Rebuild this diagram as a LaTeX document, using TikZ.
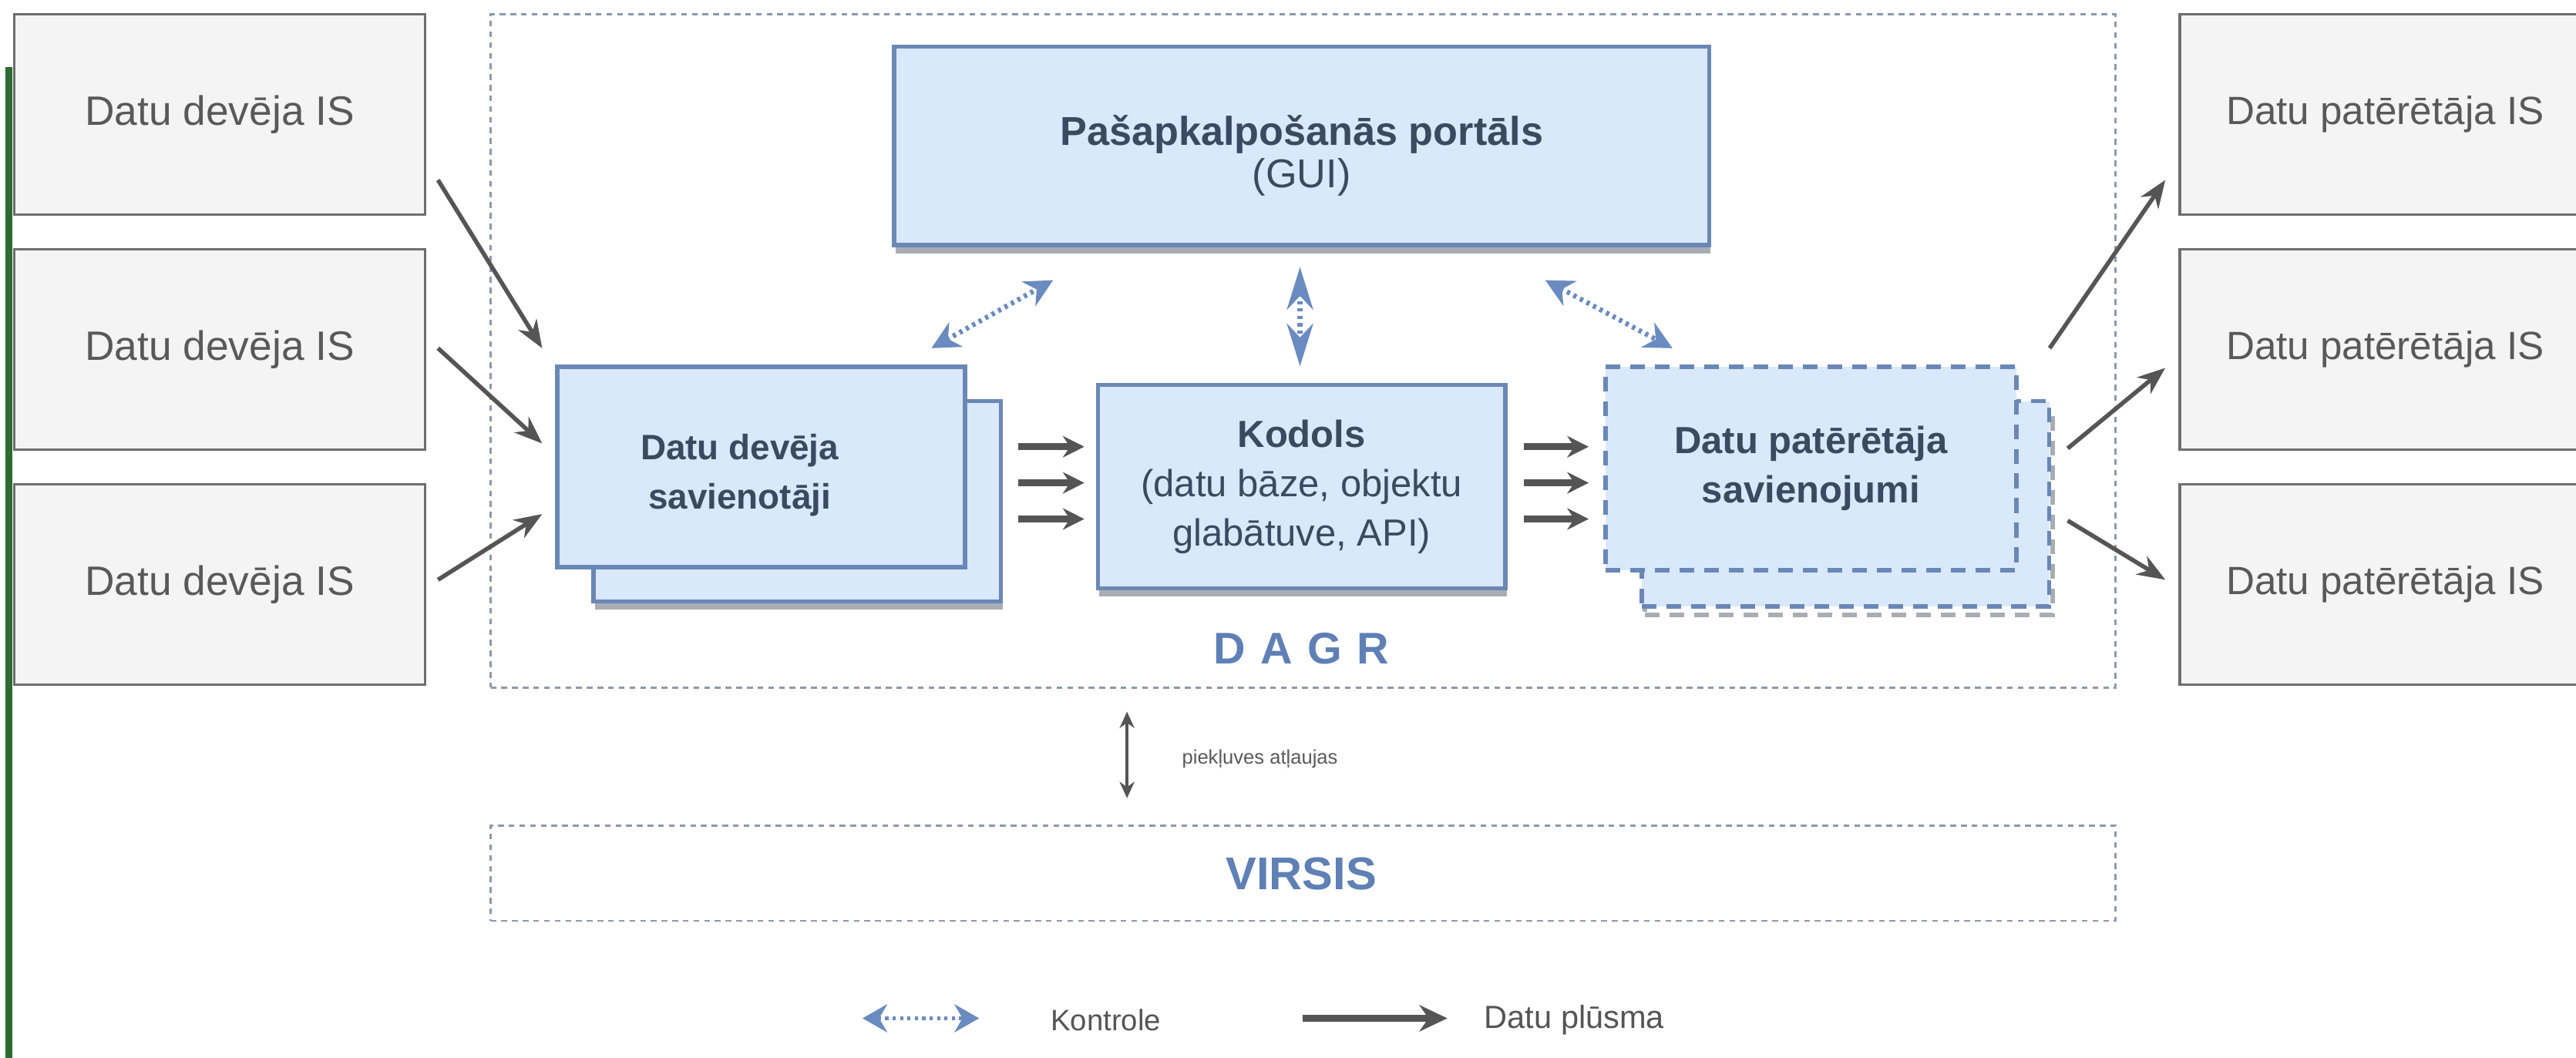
\documentclass[tikz,border=0pt]{standalone}
\usepackage{fontspec}
\setmainfont{Liberation Sans}
\usetikzlibrary{arrows.meta,calc}
\definecolor{isfill}{HTML}{F4F4F4}
\definecolor{isdraw}{HTML}{6E6E6E}
\definecolor{istext}{HTML}{595959}
\definecolor{bfill}{HTML}{DAE8FC}
\definecolor{bdraw}{HTML}{6A88B6}
\definecolor{btext}{HTML}{3A4A60}
\definecolor{shade}{HTML}{A9ADB3}
\definecolor{frame}{HTML}{8D99A8}
\definecolor{flowc}{HTML}{555555}
\definecolor{ctrl}{HTML}{6A8BC0}
\definecolor{titlec}{HTML}{5F80B5}
\definecolor{gbar}{HTML}{2E6B30}
\begin{document}
\begin{tikzpicture}[x=1pt,y=-1pt,
  isbox/.style={draw=isdraw,fill=isfill,line width=1.6pt,minimum width=250pt,minimum height=122pt,anchor=north west,inner sep=0pt,text=istext,font=\fontsize{25}{29}\selectfont},
  bluebox/.style={draw=bdraw,fill=bfill,line width=2.6pt,anchor=north west,inner sep=0pt,text=btext,align=center,font=\fontsize{23}{30}\selectfont},
  dashbox/.style={bluebox,dash pattern=on 9pt off 6pt,line width=2.6pt},
  shadowbox/.style={fill=shade,draw=none,anchor=north west,inner sep=0pt},
  frameline/.style={draw=frame,line width=1.3pt,dash pattern=on 3.5pt off 3pt},
  flowarrow/.style={draw=flowc,line width=2.6pt,-{Stealth[length=17pt,width=13pt]}},
  shortflow/.style={draw=flowc,line width=4pt,-{Stealth[length=13pt,width=13pt]}},
  ctrlarrow/.style={draw=ctrl,line width=3pt,dash pattern=on 2pt off 2.5pt,{Stealth[length=17pt,width=17pt]}-{Stealth[length=17pt,width=17pt]}},
  titletext/.style={text=titlec,font=\fontsize{26}{30}\selectfont\bfseries}
]
\clip (0,0) rectangle (1568,644);
\fill[white] (0,0) rectangle (1568,644);

% green edge bar
\fill[gbar] (3.5,41) rectangle (7.5,644);

% frames
\node[frameline,draw,minimum width=989pt,minimum height=410pt,anchor=north west,inner sep=0pt] (dagr) at (298,8) {};
\node[frameline,draw,minimum width=989pt,minimum height=58pt,anchor=north west,inner sep=0pt] (virsis) at (298,502) {};
\node[titletext,font=\fontsize{27}{30}\selectfont\bfseries] (dagrlabel) at (792,395) {\addfontfeatures{LetterSpace=34}DAGR};
\node[titletext,font=\fontsize{28}{30}\selectfont\bfseries] (virsislabel) at (792,532) {VIRSIS};

% IS boxes
\node[isbox] (d1) at (8,8) {Datu devēja IS};
\node[isbox] (d2) at (8,151) {Datu devēja IS};
\node[isbox] (d3) at (8,294) {Datu devēja IS};
\node[isbox,font=\fontsize{24}{29}\selectfont] (p1) at (1326,8) {Datu patērētāja IS};
\node[isbox,font=\fontsize{24}{29}\selectfont] (p2) at (1326,151) {Datu patērētāja IS};
\node[isbox,font=\fontsize{24}{29}\selectfont] (p3) at (1326,294) {Datu patērētāja IS};

% portal
\node[shadowbox,minimum width=496pt,minimum height=121pt] at (545,33) {};
\node[bluebox,minimum width=496pt,minimum height=121pt,font=\fontsize{24.5}{30}\selectfont] (portal) at (543,27) {\rule{0pt}{30pt}\textbf{Pašapkalpošanās portāls}\\[-4pt](GUI)};

% provider connectors
\node[shadowbox,minimum width=248pt,minimum height=122pt] at (362,249) {};
\node[bluebox,minimum width=248pt,minimum height=122pt] (devback) at (360,243) {};
\node[bluebox,minimum width=248pt,minimum height=122pt,font=\fontsize{21.5}{30}\selectfont] (dev) at (338,222) {\rule{0pt}{26pt}\textbf{Datu devēja}\hspace*{26pt}\\\textbf{savienotāji}\hspace*{26pt}};

% core
\node[shadowbox,minimum width=248pt,minimum height=124pt] at (669,239) {};
\node[bluebox,minimum width=248pt,minimum height=124pt] (core) at (667,233) {\textbf{Kodols}\\(datu bāze, objektu\\glabātuve, API)};

% consumer connections
\node[shadowbox,dash pattern=on 9pt off 6pt,draw=shade,line width=2.6pt,fill=none,minimum width=248pt,minimum height=125pt] at (1000,248) {};
\node[dashbox,minimum width=248pt,minimum height=125pt] (patback) at (998,243) {};
\node[dashbox,minimum width=250pt,minimum height=124pt] (pat) at (976,222) {\textbf{Datu patērētāja}\\\textbf{savienojumi}};

% data flow in
\coordinate (i1) at ($(d1.south east)+(7,-22)$);
\coordinate (i2) at ($(d2.north east)+(7,61)$);
\coordinate (i3) at ($(d3.north east)+(7,59)$);
\coordinate (e1) at ($(dev.north west)+(-8,-10)$);
\coordinate (e2) at ($(dev.north west)+(-8,48)$);
\coordinate (e3) at ($(dev.north west)+(-8,91)$);
\draw[flowarrow] (i1) -- (e1);
\draw[flowarrow] (i2) -- (e2);
\draw[flowarrow] (i3) -- (e3);

% dev -> core -> pat
\foreach \dy in {29,51,73} {
  \draw[shortflow] ($(devback.north east)+(9,\dy)$) -- ($(core.north west)+(-7,\dy+10)$);
  \draw[shortflow] ($(core.north east)+(10,\dy+10)$) -- ($(pat.north west)+(-9,\dy+21)$);
}

% data flow out
\coordinate (o1) at ($(pat.north east)+(19,-10)$);
\coordinate (o2) at ($(patback.north east)+(10,30)$);
\coordinate (o3) at ($(patback.north east)+(10,74)$);
\draw[flowarrow] (o1) -- ($(p1.south west)+(-8,-22)$);
\draw[flowarrow] (o2) -- ($(p2.north west)+(-8,73)$);
\draw[flowarrow] (o3) -- ($(p3.north west)+(-8,59)$);

% control arrows
\draw[ctrlarrow] ($(dev.north west)+(229,-10)$) -- ($(portal.south west)+(98,20)$);
\draw[ctrlarrow,{Stealth[length=26pt,width=16pt]}-{Stealth[length=26pt,width=16pt]}] ($(portal.south)+(-1,12)$) -- ($(core.north)+(-1,-10)$);
\draw[ctrlarrow] ($(portal.south east)+(-101,20)$) -- ($(pat.north west)+(42,-10)$);

% access arrow
\draw[draw=flowc,line width=1.8pt,{Stealth[length=10pt,width=9pt]}-{Stealth[length=10pt,width=9pt]}] ($(dagr.south west)+(388,14)$) coordinate (acc1) -- ($(virsis.north west)+(388,-16)$) coordinate (acc2);
\node[anchor=west,text=istext,font=\fontsize{12}{14}\selectfont] (acc) at (716,462) {piekļuves atļaujas};

% legend
\coordinate (lc1) at (525,620);
\coordinate (lc2) at (596,620);
\draw[ctrlarrow,line width=2.6pt,{Stealth[length=15pt,width=17pt]}-{Stealth[length=15pt,width=17pt]}] (lc1) -- (lc2);
\node[anchor=west,text=flowc,font=\fontsize{18}{20}\selectfont] (kontrole) at (636,621) {Kontrole};
\coordinate (lf1) at (793,620);
\coordinate (lf2) at (881,620);
\draw[draw=flowc,line width=4.5pt,-{Stealth[length=17pt,width=16pt]}] (lf1) -- (lf2);
\node[anchor=west,text=flowc,font=\fontsize{19.5}{21}\selectfont] (plusma) at (900,621) {Datu plūsma};
\end{tikzpicture}
\end{document}
